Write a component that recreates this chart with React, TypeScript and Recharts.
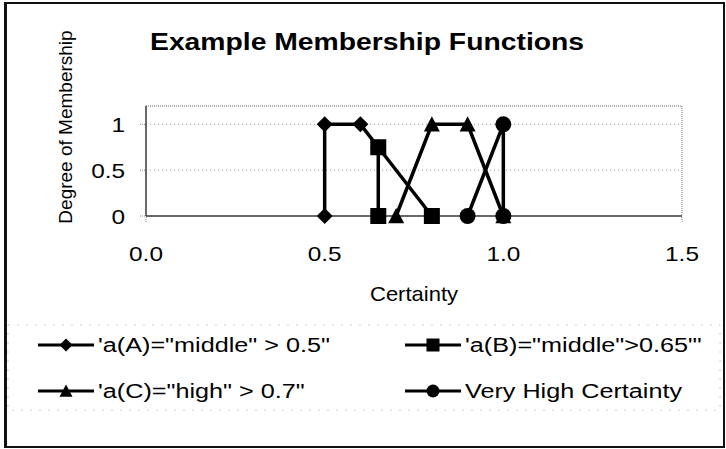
import React from "react";
import { ScatterChart, Scatter, XAxis, YAxis, CartesianGrid, Legend, Label, ReferenceArea } from "recharts";

const FONT = "'Liberation Sans', Arial, sans-serif";

const titleText = "Example Membership Functions";
const xTitle = "Certainty";
const yTitle = "Degree of Membership";

const xTicks = [0, 0.5, 1.0, 1.5];
const yTicks = [0, 0.5, 1];

const seriesNames = [
  `'a(A)="middle" > 0.5"`,
  `'a(B)="middle">0.65"'`,
  `'a(C)="high" > 0.7"`,
  "Very High Certainty",
];
const markerKinds = ["diamond", "square", "triangle", "circle"];

const aX = [0.5, 0.5, 0.6, 0.65];
const aY = [0, 1, 1, 0.75];
const bX = [0.65, 0.65, 0.8];
const bY = [0, 0.75, 0];
const cX = [0.7, 0.8, 0.9, 1.0];
const cY = [0, 1, 1, 0];
const dX = [0.9, 1.0, 1.0];
const dY = [0, 1, 0];

const toPoints = (xs: number[], ys: number[]) => xs.map((x, i) => ({ x, y: ys[i] }));
const series = [toPoints(aX, aY), toPoints(bX, bY), toPoints(cX, cY), toPoints(dX, dY)];

function Marker({ kind, cx, cy, s }: { kind: string; cx: number; cy: number; s: number }) {
  const h = s / 2;
  if (kind === "diamond")
    return <polygon points={`${cx},${cy - h} ${cx + h},${cy} ${cx},${cy + h} ${cx - h},${cy}`} fill="#000" />;
  if (kind === "square") return <rect x={cx - h} y={cy - h} width={s} height={s} fill="#000" />;
  if (kind === "triangle")
    return <polygon points={`${cx},${cy - h} ${cx + h},${cy + h * 0.9} ${cx - h},${cy + h * 0.9}`} fill="#000" />;
  return <circle cx={cx} cy={cy} r={h} fill="#000" />;
}

const XTick = (props: any) => {
  const { x, y, payload } = props;
  return (
    <text transform={`translate(${x},${y + 37}) scale(1.16,1)`} textAnchor="middle" fontSize={21} fontFamily={FONT} fill="#000">
      {Number(payload.value).toFixed(1)}
    </text>
  );
};

const YTick = (props: any) => {
  const { x, y, payload } = props;
  return (
    <text transform={`translate(${x - 13},${y + 7.5}) scale(1.16,1)`} textAnchor="end" fontSize={21} fontFamily={FONT} fill="#000">
      {payload.value}
    </text>
  );
};

const legendColX = [38, 405];
const legendRowY = [45, 91];

function LegendBox({ payload }: any) {
  return (
    <svg width={726} height={130} style={{ display: "block" }}>
      <rect x={8} y={25} width={712} height={85} fill="none" stroke="#d0d0d0" strokeDasharray="2 7" />
      {(payload ?? []).map((entry: any) => {
        const i = seriesNames.indexOf(entry.value);
        const x0 = legendColX[i % 2];
        const y0 = legendRowY[Math.floor(i / 2)];
        return (
          <g key={entry.value}>
            <line x1={x0} x2={x0 + 56} y1={y0} y2={y0} stroke="#000" strokeWidth={3} />
            <Marker kind={markerKinds[i]} cx={x0 + 28} cy={y0} s={13} />
            <text transform={`translate(${x0 + 60},${y0 + 7}) scale(1.2,1)`} fontSize={21} fontFamily={FONT} fill="#000">
              {entry.value}
            </text>
          </g>
        );
      })}
    </svg>
  );
}

export default function App() {
  return (
    <div style={{ position: "relative", width: 726, height: 449, background: "#fff", fontFamily: FONT }}>
      <style>{"body{margin:0}"}</style>
      <div
        style={{
          position: "absolute",
          left: 4,
          top: 2,
          width: 716,
          height: 442,
          borderStyle: "solid",
          borderColor: "#111",
          borderWidth: "2px 2px 2px 3px",
        }}
      />
      <svg width={726} height={449} style={{ position: "absolute", left: 0, top: 0 }}>
        <text transform="translate(150,50) scale(1.18,1)" fontSize={24} fontWeight="bold" fontFamily={FONT} fill="#000">
          {titleText}
        </text>
      </svg>
      <div style={{ position: "absolute", left: 0, top: 0 }}>
        <ScatterChart width={726} height={449} margin={{ top: 106, right: 44, bottom: 203, left: 86 }}>
          <CartesianGrid horizontal vertical={false} stroke="#999" strokeDasharray="1 3" />
          <ReferenceArea x1={0} x2={1.5} y1={0} y2={1.2} fill="none" stroke="#777" strokeDasharray="1 1" ifOverflow="visible" />
          <XAxis
            type="number"
            dataKey="x"
            domain={[0, 1.5]}
            ticks={xTicks}
            height={30}
            tick={<XTick />}
            tickSize={6}
            tickLine={{ stroke: "#888", strokeDasharray: "1 1" }}
            axisLine={{ stroke: "#444", strokeWidth: 1.5 }}
          >
            <Label
              content={(p: any) => {
                const vb = p.viewBox;
                return (
                  <text
                    transform={`translate(${vb.x + vb.width / 2},${vb.y + 85}) scale(1.1,1)`}
                    textAnchor="middle"
                    fontSize={20}
                    fontFamily={FONT}
                    fill="#000"
                  >
                    {xTitle}
                  </text>
                );
              }}
            />
          </XAxis>
          <YAxis
            type="number"
            dataKey="y"
            domain={[0, 1.2]}
            ticks={yTicks}
            width={60}
            tick={<YTick />}
            tickSize={6}
            tickLine={{ stroke: "#888", strokeDasharray: "1 1" }}
            axisLine={{ stroke: "#444", strokeWidth: 1.5 }}
          >
            <Label
              content={(p: any) => {
                const vb = p.viewBox;
                return (
                  <text
                    transform={`translate(${vb.x - 14},${vb.y + vb.height / 2 - 34}) rotate(-90)`}
                    textAnchor="middle"
                    fontSize={19}
                    fontFamily={FONT}
                    fill="#000"
                  >
                    {yTitle}
                  </text>
                );
              }}
            />
          </YAxis>
          <Legend
            layout="horizontal"
            verticalAlign="middle"
            align="center"
            content={<LegendBox />}
            wrapperStyle={{ left: 0, top: 300, width: 726, height: 130 }}
          />
          {series.map((data, i) => (
            <Scatter
              key={seriesNames[i]}
              name={seriesNames[i]}
              data={data}
              fill="#000"
              line={{ stroke: "#000", strokeWidth: 3.5 }}
              lineType="joint"
              shape={(p: any) => <Marker kind={markerKinds[i]} cx={p.cx} cy={p.cy} s={16} />}
              isAnimationActive={false}
            />
          ))}
        </ScatterChart>
      </div>
    </div>
  );
}
